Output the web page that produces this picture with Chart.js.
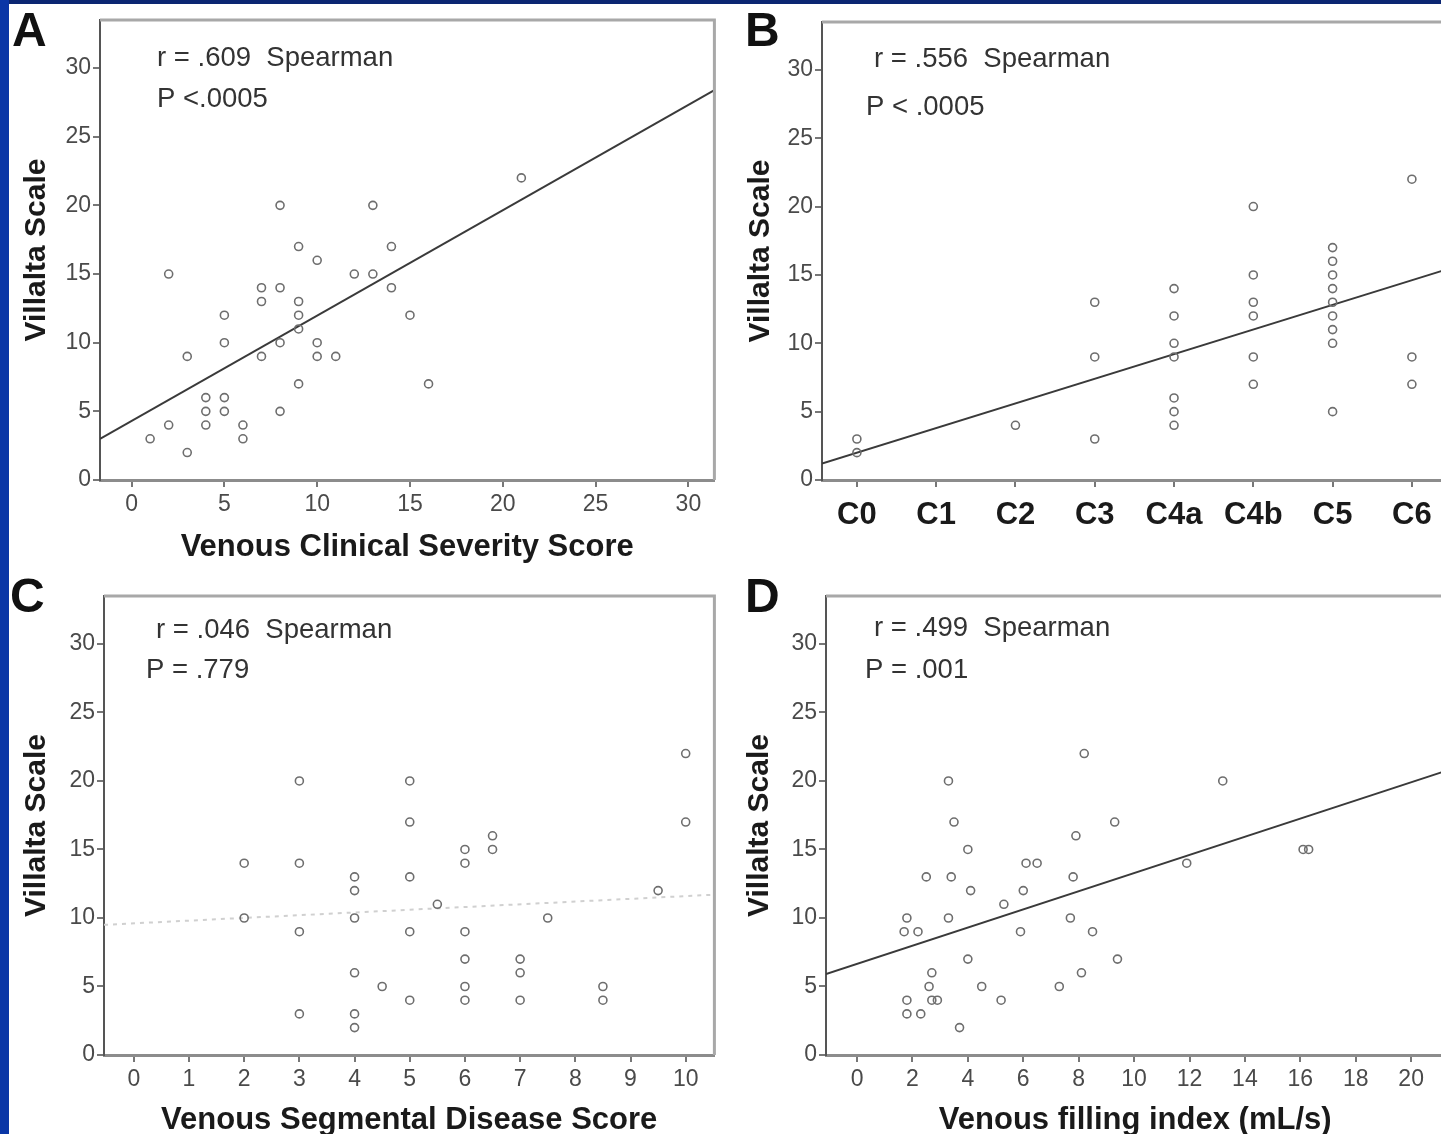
<!DOCTYPE html>
<html>
<head>
<meta charset="utf-8">
<script src="https://cdn.jsdelivr.net/npm/chart.js@4.4.1/dist/chart.umd.min.js"></script>
<style>
  html, body { margin: 0; padding: 0; background: #fff; overflow: hidden; }
  body { width: 1441px; height: 1134px; position: relative; font-family: 'Liberation Sans', Arial, sans-serif; }
  .bar-top { position: absolute; left: 0; top: 0; width: 1441px; height: 4px; background: #0b2672; }
  .bar-left { position: absolute; left: 0; top: 0; width: 9px; height: 1134px; background: #0a36a6; }
  .panel { position: absolute; }
  .letter { position: absolute; font: bold 48px 'Liberation Sans', Arial, sans-serif; color: #111; line-height: 48px; }
</style>
</head>
<body>
<div class="bar-top"></div>
<div class="bar-left"></div>

<canvas id="chartA" class="panel" width="720" height="568" style="left:0;top:0"></canvas>
<canvas id="chartB" class="panel" width="730" height="568" style="left:720px;top:0"></canvas>
<canvas id="chartC" class="panel" width="720" height="600" style="left:0;top:568px"></canvas>
<canvas id="chartD" class="panel" width="730" height="600" style="left:720px;top:568px"></canvas>

<div class="letter" style="left:12px;top:6px">A</div>
<div class="letter" style="left:745px;top:6px">B</div>
<div class="letter" style="left:10px;top:572px">C</div>
<div class="letter" style="left:745px;top:572px">D</div>

<script>
// shared y axis
const villaltaTicks = [0, 5, 10, 15, 20, 25, 30];

// A: Venous Clinical Severity Score
const vcssA = [2, 2, 1, 3, 3, 4, 4, 4, 5, 5, 5, 5, 6, 6, 7, 7, 7, 8, 8, 8, 8, 9, 9, 9, 9, 9, 10, 10, 10, 11, 12, 13, 13, 14, 14, 15, 16, 21];
const villaltaA = [15, 4, 3, 9, 2, 6, 5, 4, 12, 10, 6, 5, 4, 3, 14, 13, 9, 20, 14, 10, 5, 17, 13, 12, 11, 7, 16, 10, 9, 9, 15, 20, 15, 17, 14, 12, 7, 22];
const ticksA = [0, 5, 10, 15, 20, 25, 30];
const fitA_x = [-1.7, 31.4];
const fitA_y = [3.0, 28.4];
const statsA = ['r = .609  Spearman', 'P <.0005'];

// B: CEAP clinical class
const ceapCats = ['C0', 'C1', 'C2', 'C3', 'C4a', 'C4b', 'C5', 'C6'];
const ceapB = ['C0', 'C0', 'C2', 'C3', 'C3', 'C3',
  'C4a', 'C4a', 'C4a', 'C4a', 'C4a', 'C4a', 'C4a',
  'C4b', 'C4b', 'C4b', 'C4b', 'C4b', 'C4b',
  'C5', 'C5', 'C5', 'C5', 'C5', 'C5', 'C5', 'C5', 'C5',
  'C6', 'C6', 'C6'];
const villaltaB = [3, 2, 4, 13, 9, 3,
  14, 12, 10, 9, 6, 5, 4,
  20, 15, 13, 12, 9, 7,
  17, 16, 15, 14, 13, 12, 11, 10, 5,
  22, 9, 7];
const fitB_x = [-0.44, 7.41];
const fitB_y = [1.2, 15.35];
const statsB = ['r = .556  Spearman', 'P < .0005'];

// C: Venous Segmental Disease Score
const vsdsC = [2, 2, 3, 3, 3, 3, 4, 4, 4, 4, 4, 4, 4.5, 5, 5, 5, 5, 5, 5.5,
  6, 6, 6, 6, 6, 6, 6.5, 6.5, 7, 7, 7, 7.5, 8.5, 8.5, 9.5, 10, 10];
const villaltaC = [14, 10, 20, 14, 9, 3, 13, 12, 10, 6, 3, 2, 5, 20, 17, 13, 9, 4, 11,
  15, 14, 9, 7, 5, 4, 16, 15, 7, 6, 4, 10, 5, 4, 12, 22, 17];
const ticksC = [0, 1, 2, 3, 4, 5, 6, 7, 8, 9, 10];
const fitC_x = [-0.54, 10.52];
const fitC_y = [9.5, 11.7];
const statsC = ['r = .046  Spearman', 'P = .779'];

// D: Venous filling index
const vfiD = [3.3, 3.5, 4.0, 2.5, 3.4, 4.1, 1.8, 3.3, 1.7, 2.2, 4.0, 2.7, 2.6, 4.5, 1.8, 2.7, 2.9, 1.8, 2.3, 3.7,
  5.2, 5.3, 6.0, 5.9, 6.1, 6.5, 7.3, 7.8, 7.7, 7.9, 8.2, 8.1, 8.5, 9.3, 9.4, 11.9, 13.2, 16.1, 16.3];
const villaltaD = [20, 17, 15, 13, 13, 12, 10, 10, 9, 9, 7, 6, 5, 5, 4, 4, 4, 3, 3, 2,
  4, 11, 12, 9, 14, 14, 5, 13, 10, 16, 22, 6, 9, 17, 7, 14, 20, 15, 15];
const ticksD = [0, 2, 4, 6, 8, 10, 12, 14, 16, 18, 20];
const fitD_x = [-1.12, 21.2];
const fitD_y = [5.9, 20.7];
const statsD = ['r = .499  Spearman', 'P = .001'];

const FONT = "'Liberation Sans', Arial, sans-serif";

// draws the top/right frame edges and the correlation text
const framePlugin = {
  id: 'frame',
  afterDraw(chart, args, opts) {
    const { ctx, chartArea: a } = chart;
    ctx.save();
    ctx.strokeStyle = '#a8a8a8';
    ctx.lineWidth = 3;
    ctx.beginPath();
    ctx.moveTo(a.left, a.top);
    ctx.lineTo(a.right, a.top);
    ctx.lineTo(a.right, a.bottom);
    ctx.stroke();
    ctx.fillStyle = '#333';
    ctx.font = '27.5px ' + FONT;
    ctx.textBaseline = 'alphabetic';
    opts.lines.forEach((txt, i) => {
      ctx.fillText(txt, a.left + opts.pos[i][0], a.top + opts.pos[i][1]);
    });
    ctx.restore();
  }
};

function makeChart(id, cfg) {
  const points = cfg.xs.map((x, i) => ({ x: x, y: cfg.ys[i] }));
  const fit = cfg.fitX.map((x, i) => ({ x: x, y: cfg.fitY[i] }));
  return new Chart(document.getElementById(id), {
    type: 'scatter',
    data: {
      datasets: [{
        data: points,
        pointStyle: 'circle',
        pointRadius: 4,
        pointBorderWidth: 1.6,
        pointBorderColor: '#6e6e6e',
        pointBackgroundColor: 'rgba(255,255,255,0)'
      }, {
        type: 'line',
        data: fit,
        borderColor: cfg.fitColor,
        borderWidth: cfg.fitWidth,
        borderDash: cfg.fitDash,
        pointRadius: 0,
        fill: false
      }]
    },
    options: {
      responsive: false,
      animation: false,
      devicePixelRatio: 1,
      layout: { padding: { top: cfg.padTop, right: cfg.padRight, left: 0, bottom: 0 } },
      plugins: {
        legend: { display: false },
        tooltip: { enabled: false },
        frame: { lines: cfg.stats, pos: cfg.statPos }
      },
      scales: {
        x: {
          type: 'linear',
          min: cfg.xMin,
          max: cfg.xMax,
          afterBuildTicks: (s) => { s.ticks = cfg.xTicks.map(v => ({ value: v })); },
          afterFit: (s) => { s.height = cfg.xHeight; },
          ticks: {
            padding: cfg.catLabels ? 10 : 4,
            color: cfg.catLabels ? '#1a1a1a' : '#4a4a4a',
            font: cfg.catLabels ? { family: FONT, size: 31, weight: 'bold' } : { family: FONT, size: 23 },
            callback: (v) => cfg.catLabels ? cfg.catLabels[v] : v
          },
          grid: { drawOnChartArea: false, tickLength: 7, color: '#777', lineWidth: 2 },
          border: { color: '#8c8c8c', width: 3 },
          title: {
            display: !!cfg.xTitle,
            text: cfg.xTitle,
            color: '#1a1a1a',
            font: { family: FONT, size: 31, weight: 'bold' },
            padding: { top: 0, bottom: cfg.xTitlePad }
          }
        },
        y: {
          type: 'linear',
          min: 0,
          max: 33.5,
          afterBuildTicks: (s) => { s.ticks = villaltaTicks.map(v => ({ value: v })); },
          afterFit: (s) => { s.width = cfg.yWidth; },
          ticks: { padding: 2, color: '#4a4a4a', font: { family: FONT, size: 23 } },
          grid: { drawOnChartArea: false, tickLength: 7, color: '#777', lineWidth: 2 },
          border: { color: '#555', width: 2 },
          title: {
            display: true,
            text: 'Villalta Scale',
            color: '#1a1a1a',
            font: { family: FONT, size: 30, weight: 'bold' },
            padding: { top: cfg.yTitlePad, bottom: 0 }
          }
        }
      }
    },
    plugins: [framePlugin]
  });
}

makeChart('chartA', {
  xs: vcssA, ys: villaltaA, xTicks: ticksA, xMin: -1.7, xMax: 31.4,
  fitX: fitA_x, fitY: fitA_y, fitColor: '#3a3a3a', fitWidth: 2, fitDash: [],
  stats: statsA, statPos: [[57, 46], [57, 87]],
  padTop: 20, padRight: 3, yWidth: 100, xHeight: 88,
  xTitle: 'Venous Clinical Severity Score', xTitlePad: 2, yTitlePad: 19
});

makeChart('chartB', {
  xs: ceapB.map(c => ceapCats.indexOf(c)), ys: villaltaB,
  xTicks: ceapCats.map((c, i) => i), catLabels: ceapCats, xMin: -0.44, xMax: 7.41,
  fitX: fitB_x, fitY: fitB_y, fitColor: '#3a3a3a', fitWidth: 2, fitDash: [],
  stats: statsB, statPos: [[52, 45], [44, 93]],
  padTop: 22, padRight: 5, yWidth: 102, xHeight: 88,
  xTitle: '', xTitlePad: 0, yTitlePad: 23
});

makeChart('chartC', {
  xs: vsdsC, ys: villaltaC, xTicks: ticksC, xMin: -0.54, xMax: 10.52,
  fitX: fitC_x, fitY: fitC_y, fitColor: '#d0d0d0', fitWidth: 2, fitDash: [4, 5],
  stats: statsC, statPos: [[52, 42], [42, 82]],
  padTop: 28, padRight: 2, yWidth: 104, xHeight: 113,
  xTitle: 'Venous Segmental Disease Score', xTitlePad: 29, yTitlePad: 19
});

makeChart('chartD', {
  xs: vfiD, ys: villaltaD, xTicks: ticksD, xMin: -1.12, xMax: 21.2,
  fitX: fitD_x, fitY: fitD_y, fitColor: '#3a3a3a', fitWidth: 2, fitDash: [],
  stats: statsD, statPos: [[48, 40], [39, 82]],
  padTop: 28, padRight: 5, yWidth: 106, xHeight: 113,
  xTitle: 'Venous filling index (mL/s)', xTitlePad: 29, yTitlePad: 22
});
</script>
</body>
</html>
